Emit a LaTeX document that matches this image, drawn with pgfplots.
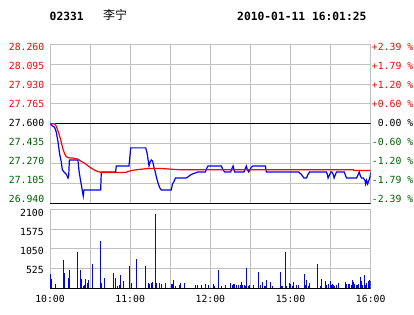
\documentclass[border=0pt]{standalone}
\usepackage{pgfplots}
\pgfplotsset{compat=1.18}
\usepackage{fontspec}
\setmainfont{DejaVu Sans}
\setmonofont{DejaVu Sans Mono}
\newfontfamily\cjk{Noto Sans CJK SC}
\definecolor{dkgreen}{RGB}{0,96,0}
\definecolor{gridgray}{RGB}{192,192,192}
\definecolor{pblue}{RGB}{0,0,255}
\definecolor{pred}{RGB}{255,0,0}
\newcommand{\tl}{\fontsize{9.8}{10}\ttfamily}
\begin{document}
\begin{tikzpicture}[x=1pt,y=1pt]
\path[use as bounding box] (0pt,0pt) rectangle (414pt,314pt);
% header
\node[anchor=west, inner sep=0pt, font=\fontsize{11.3}{12}\ttfamily\bfseries] at (49.5pt,298pt) {02331};
\node[anchor=west, inner sep=0pt, font=\fontsize{12}{13}\cjk] at (103pt,299pt) {李宁};
\node[anchor=west, inner sep=0pt, font=\fontsize{11.3}{12}\ttfamily\bfseries] at (237pt,298pt) {2010-01-11 16:01:25};

% ---------- price panel ----------
\begin{axis}[at={(50pt,110.7pt)}, anchor=south west, scale only axis,
  width=320.7pt, height=159pt,
  xmin=0, xmax=240, ymin=26.94, ymax=28.26,
  xtick={0,30,...,240}, ytick={26.94,27.105,27.27,27.435,27.6,27.765,27.93,28.095,28.26},
  xticklabels={}, yticklabels={}, major tick length=0pt,
  grid=major, grid style={gridgray, line width=1pt},
  axis line style={gridgray, line width=1pt}]
\addplot[black, line width=1pt] coordinates {(0,27.6) (240,27.6)};
\addplot[black, line width=1.5pt] coordinates {(0,26.94) (240,26.94)};
% price
\addplot[pblue, line width=1.2pt] coordinates {
(0,27.60) (2.2,27.58) (3.5,27.57) (4.7,27.53) (6.0,27.45) (7.2,27.35) (8.5,27.28) (9.2,27.22)
(10.5,27.20) (12.2,27.18) (13.5,27.15) (14.0,27.17) (14.5,27.30) (20.5,27.30) (21.0,27.29)
(21.7,27.21) (22.7,27.14) (23.5,27.09) (24.4,27.03) (24.9,27.00) (25.4,27.05) (37.9,27.05)
(38.4,27.20) (49.1,27.20) (49.6,27.25) (59.1,27.25) (60.4,27.40) (71.6,27.40) (72.6,27.36)
(73.3,27.31) (74.1,27.25) (74.8,27.28) (75.8,27.30) (76.8,27.29) (77.8,27.24) (78.8,27.20)
(79.8,27.15) (80.8,27.11) (82.1,27.07) (83.3,27.05) (90.8,27.05) (91.6,27.10) (92.8,27.12)
(93.8,27.15) (102,27.15) (103.3,27.16) (105.8,27.18) (108.3,27.19) (110.8,27.20) (116.3,27.20)
(117.3,27.23) (118.2,27.25) (128.2,27.25) (129.4,27.22) (130.7,27.20) (135.2,27.20) (136.2,27.23)
(137,27.25) (137.7,27.22) (138.2,27.20) (145.2,27.20) (146.2,27.23) (146.9,27.25) (147.7,27.22)
(148.7,27.20) (149.7,27.22) (150.7,27.24) (151.9,27.25) (161.2,27.25) (161.9,27.20) (186.1,27.20)
(188.1,27.18) (190.1,27.15) (191.9,27.15) (193.1,27.18) (194.3,27.20) (206.8,27.20) (207.6,27.18)
(208.1,27.15) (209.4,27.18) (210.1,27.20) (211.1,27.20) (211.9,27.18) (212.6,27.15) (213.6,27.18)
(214.4,27.20) (220.2,27.20) (221.2,27.17) (221.9,27.15) (229.4,27.15) (230.7,27.18) (231.4,27.20)
(232.2,27.17) (233.2,27.15) (234.5,27.15) (235.7,27.13) (236.2,27.10) (236.9,27.13) (237.7,27.10)
(238.7,27.13) (239.5,27.16) (240,27.20)};
% average
\addplot[pred, line width=1.2pt] coordinates {
(0,27.60) (3.5,27.60) (4.7,27.58) (6.0,27.54) (7.2,27.50) (8.5,27.445) (9.7,27.39) (11.0,27.35)
(12.2,27.326) (14.0,27.318) (17.2,27.315) (21.0,27.306) (23.5,27.287) (26.0,27.273) (28.4,27.251)
(30.9,27.232) (33.4,27.215) (35.9,27.204) (38.4,27.196) (56.6,27.196) (58.4,27.204) (62.1,27.215)
(64.6,27.218) (68.4,27.223) (73.3,27.229) (83.3,27.229) (90.8,27.223) (98.3,27.218) (119.7,27.218)
(227.2,27.218) (227.5,27.212) (240,27.212)};
\end{axis}

% left price labels
\begin{axis}[at={(50pt,115pt)}, anchor=south west, scale only axis,
  width=320.7pt, height=151.7pt,
  xmin=0, xmax=240, ymin=26.94, ymax=28.26,
  hide x axis, axis y line*=left, y axis line style={draw=none},
  major tick length=0pt,
  ytick={26.94,27.105,27.27,27.435,27.6,27.765,27.93,28.095,28.26},
  yticklabels={\textcolor{dkgreen}{26.940},\textcolor{dkgreen}{27.105},\textcolor{dkgreen}{27.270},\textcolor{dkgreen}{27.435},27.600,\textcolor{pred}{27.765},\textcolor{pred}{27.930},\textcolor{pred}{28.095},\textcolor{pred}{28.260}},
  yticklabel style={font=\tl, anchor=east, inner sep=0pt, xshift=-5.5pt}]
\addplot[draw=none] coordinates {(0,27.6)};
\end{axis}

% right percent labels
\begin{axis}[at={(50pt,115pt)}, anchor=south west, scale only axis,
  width=320.7pt, height=151.7pt,
  xmin=0, xmax=240, ymin=26.94, ymax=28.26,
  hide x axis, axis y line*=right, y axis line style={draw=none},
  major tick length=0pt,
  ytick={26.94,27.105,27.27,27.435,27.6,27.765,27.93,28.095,28.26},
  yticklabels={\textcolor{dkgreen}{-2.39 \%},\textcolor{dkgreen}{-1.79 \%},\textcolor{dkgreen}{-1.20 \%},\textcolor{dkgreen}{-0.60 \%},\phantom{+}0.00 \%,\textcolor{pred}{+0.60 \%},\textcolor{pred}{+1.20 \%},\textcolor{pred}{+1.79 \%},\textcolor{pred}{+2.39 \%}},
  yticklabel style={font=\tl, anchor=west, inner sep=0pt, xshift=1pt}]
\addplot[draw=none] coordinates {(0,27.6)};
\end{axis}

% ---------- volume panel ----------
\begin{axis}[at={(50pt,25.7pt)}, anchor=south west, scale only axis,
  width=320.7pt, height=78.8pt,
  xmin=0, xmax=240, ymin=0, ymax=2100,
  xtick={0,30,...,240}, ytick={0,525,1050,1575,2100},
  xticklabels={10:00,,11:00,,12:00,,15:00,,16:00}, yticklabels={},
  xticklabel style={font=\tl, yshift=-3.5pt},
  major tick length=0pt,
  grid=major, grid style={gridgray, line width=1pt},
  axis line style={gridgray, line width=1pt}]
\addplot[pblue, ycomb, line width=1.2pt] coordinates {
(0.25,375) (1.0,241) (4.0,107) (10.0,750) (10.7,402) (13.7,268) (14.5,482) (20.5,965)
(22.7,482) (23.4,241) (24.9,62) (25.7,98) (26.4,241) (27.9,134) (28.7,214) (31.7,643)
(37.7,1260) (38.4,134) (40.7,268) (47.4,402) (48.9,268) (50.4,54) (51.9,80) (52.6,348)
(54.9,188) (59.4,590) (60.9,134) (64.6,777) (71.3,590) (73.6,134) (74.3,107) (75.8,134)
(76.5,160) (78.8,1983) (79.6,134) (81.8,134)
(83.3,107) (86.3,134) (90.8,107) (91.5,107) (92.3,214) (93.8,54) (96.8,80) (97.5,134)
(100.5,134) (108.8,80) (110.3,80) (113.2,80) (116.2,107) (118.5,80) (122.2,107) (123,54)
(126,482) (128.2,54) (131.2,80) (134.9,134) (136.4,80) (137.2,107) (137.9,107) (139.4,80)
(140.9,80) (142.4,80) (143.2,160) (143.9,80) (145.4,80) (146.2,54) (146.9,536) (148.4,54)
(149.1,80) (152.2,80) (155.9,429) (157.4,80) (158.9,160) (160.4,54) (161.1,54) (161.9,214)
(164.9,160) (166.4,54) (172.4,429) (173.1,54) (173.9,54) (176.1,965) (176.9,54) (179.1,134)
(179.8,107) (181.3,54) (182.1,160) (184.3,80) (185.8,80) (190.3,375) (191.1,80) (191.8,214)
(193.3,54) (194.1,134) (200.1,643) (202.3,54) (203.0,241) (206.0,188) (206.8,80) (208.3,107)
(209.8,188) (210.5,80) (211.3,107) (212.0,80) (212.8,54) (214.3,80) (215.8,134) (221.0,160)
(221.8,107) (223.3,107) (224.0,107) (225.5,80) (226.3,214) (227.0,160) (227.8,107) (229.3,80)
(230.0,80) (230.7,107) (232.2,295) (233.0,188) (233.7,80) (235.2,348) (236.0,80) (236.7,134)
(238.2,188) (238.9,214) (239.7,188)};
\addplot[black, line width=1.5pt] coordinates {(0,0) (240,0)};
\end{axis}

% volume labels
\begin{axis}[at={(50pt,25pt)}, anchor=south west, scale only axis,
  width=320.7pt, height=75.7pt,
  xmin=0, xmax=240, ymin=0, ymax=2100,
  hide x axis, axis y line*=left, y axis line style={draw=none},
  major tick length=0pt,
  ytick={525,1050,1575,2100},
  yticklabels={525,1050,1575,2100},
  yticklabel style={font=\tl, anchor=east, inner sep=0pt, xshift=-6pt}]
\addplot[draw=none] coordinates {(0,0)};
\end{axis}
\end{tikzpicture}
\end{document}
